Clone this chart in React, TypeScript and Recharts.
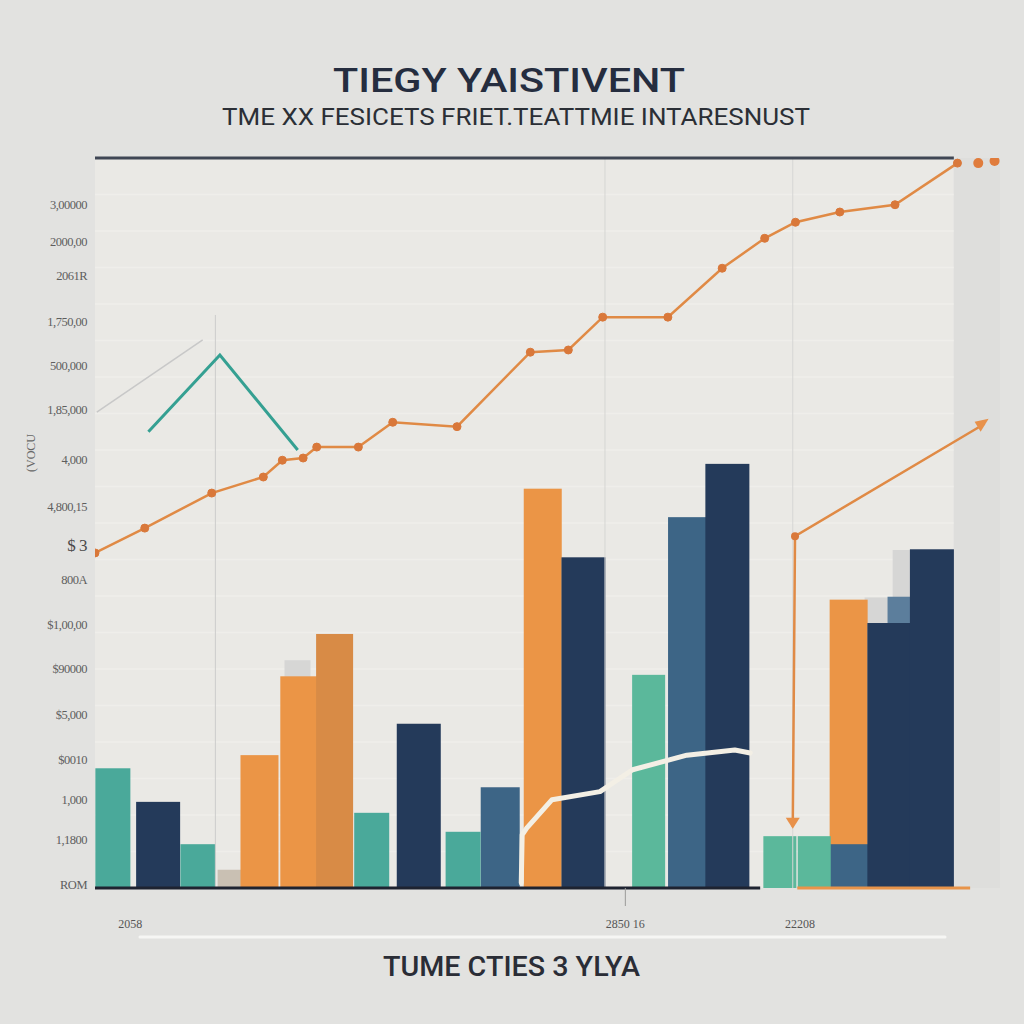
import React from 'react';
import {
  ComposedChart, Bar, Line, XAxis, YAxis, CartesianGrid, ReferenceLine, ReferenceArea
} from 'recharts';

// bar series: [time, value]
const tealBars = [[2.0, 16.4], [11.4, 6.0], [30.6, 10.3], [40.7, 7.7]];
const greenBars = [[61.2, 29.2], [75.7, 7.1], [79.5, 7.1]];
const navyBars = [[7.0, 11.8], [35.8, 22.5], [54.0, 45.3], [69.9, 58.1], [87.8, 36.3], [92.5, 46.4]];
const orangeBars = [[18.2, 18.2], [22.6, 29.0], [49.5, 54.7], [83.3, 39.5]];
const amberBars = [[26.5, 34.8]];
const steelBars = [[44.8, 13.8], [65.5, 50.8], [83.3, 6.0]];
const slateBars = [[89.2, 39.9]];
const ghostBars = [[22.4, 31.2], [86.5, 39.8], [89.6, 46.3]];
const sandBars = [[14.9, 2.5]];

// line series: [time, value]
const trendLine = [
  [0, 45.9], [5.5, 49.3], [12.9, 54.1], [18.6, 56.3], [20.7, 58.6], [23.0, 58.9],
  [24.5, 60.4], [29.1, 60.4], [32.9, 63.8], [40.0, 63.2], [48.1, 73.4], [52.3, 73.7],
  [56.1, 78.2], [63.3, 78.2], [69.3, 84.9], [74.0, 89.0], [77.4, 91.2], [82.3, 92.6],
  [88.4, 93.6], [95.3, 99.3]
];
const trailDots = [[97.6, 99.3], [99.4, 99.6]];
const spikeLine = [[77.1, 8.4], [77.35, 48.2], [98.3, 63.6]];
const tealLine = [[5.9, 62.5], [13.8, 73.0], [22.4, 60.0]];
const greyLine = [[0.2, 65.2], [11.9, 75.1]];
const creamLine = [
  [47.1, 0.7], [47.2, 7.3], [47.7, 8.2], [50.5, 12.1], [55.8, 13.2],
  [59.4, 16.2], [65.4, 18.2], [70.7, 18.9], [72.4, 18.5]
];

// axis ticks
const yTickValues = [93.5, 88.5, 83.8, 77.5, 71.5, 65.5, 58.6, 52.2, 46.7, 42.2, 36, 30, 23.7, 17.5, 12, 6.6, 0.4];
const yTickLabels = ['3,00000', '2000,00', '2061R', '1,750,00', '500,000', '1,85,000', '4,000', '4,800,15',
  '$ 3', '800A', '$1,00,00', '$90000', '$5,000', '$0010', '1,000', '1,1800', 'ROM'];
const xTickValues = [3.9, 58.6, 77.9];
const xTickLabels = ['2058', '2850 16', '22208'];
const gridTicks = [5, 10, 15, 20, 25, 30, 35, 40, 45, 50, 55, 60, 65, 70, 75, 80, 85, 90, 95];
const panelEnd = 94.9; // where the light plot panel stops on the time axis

const toPoints = (arr: number[][]) => arr.map(([x, y]) => ({ x, y }));
const toRows = (arr: number[][], key: string) => arr.map(([x, v]) => ({ x, [key]: v }));

const barRows = [
  ...toRows(ghostBars, 'ghost'), ...toRows(sandBars, 'sand'), ...toRows(orangeBars, 'orange'),
  ...toRows(amberBars, 'amber'), ...toRows(steelBars, 'steel'), ...toRows(slateBars, 'slate'),
  ...toRows(navyBars, 'navy'), ...toRows(tealBars, 'teal'), ...toRows(greenBars, 'green')
];

const barSeries = [
  { key: 'ghost', color: '#d6d6d5', size: 26 },
  { key: 'sand', color: '#c9c0b3', size: 24 },
  { key: 'orange', color: '#eb9546', size: 38 },
  { key: 'amber', color: '#d88b46', size: 37 },
  { key: 'steel', color: '#3d6586', size: 39 },
  { key: 'slate', color: '#5c7e9c', size: 29 },
  { key: 'navy', color: '#243a5a', size: 44 },
  { key: 'teal', color: '#4aa99a', size: 35 },
  { key: 'green', color: '#5bb89b', size: 33 }
];

// centre a fixed-width rect on the bar's x position
const makeShape = (size: number, color: string) => (p: any) => {
  if (p.height == null || !(p.height > 0)) return <g />;
  const cx = p.x + p.width / 2;
  return <rect x={cx - size / 2} y={p.y} width={size} height={p.height} fill={color} />;
};

const gridLine = (p: any) => (
  <line key={`g${p.index}-${p.y1}`} x1={p.x1} y1={p.y1} x2={p.x1 + (p.x2 - p.x1) * panelEnd / 100} y2={p.y2}
    stroke="#f7f6f3" strokeWidth={1.6} />
);

const YTick = (props: any) => {
  const { x, y, payload } = props;
  const i = yTickValues.indexOf(payload.value);
  const big = yTickLabels[i] === '$ 3';
  return (
    <text x={x} y={y} dy={4} textAnchor="end" fontFamily="Liberation Serif" fontSize={big ? 17 : 12.5}
      fill={big ? '#4a4a4a' : '#5e5e5e'} letterSpacing={-0.5}>
      {yTickLabels[i]}
    </text>
  );
};

const XTick = (props: any) => {
  const { x, y, payload } = props;
  const i = xTickValues.indexOf(payload.value);
  return (
    <g>
      {i === 1 && <line x1={x} x2={x} y1={y - 8} y2={y + 10} stroke="#9a9a98" strokeWidth={1} />}
      <text x={x} y={y + 32} textAnchor="middle" fontFamily="Liberation Serif" fontSize={12} fill="#555">
        {xTickLabels[i]}
      </text>
    </g>
  );
};

const cornerDot = (props: any) => {
  const { cx, cy, index } = props;
  if (index === 1) return <circle key={`d${index}`} cx={cx} cy={cy} r={4} fill="#d9783a" />;
  if (index === 0) {
    return <path key={`d${index}`} d={`M${cx - 7},${cy - 9} L${cx + 7},${cy - 9} L${cx},${cy + 2} Z`} fill="#e8914a" />;
  }
  return <path key={`d${index}`} d={`M${cx + 4},${cy - 5} L${cx - 10},${cy - 2} L${cx - 4},${cy + 8} Z`} fill="#e8914a" />;
};

export default function App() {
  return (
    <div style={{ position: 'absolute', left: 0, top: 0, width: 1024, height: 1024, background: '#e2e2e0', overflow: 'hidden' }}>
      <ComposedChart width={1024} height={1024} data={barRows}
        margin={{ top: 158, right: 24, bottom: 86, left: 0 }}>
        <CartesianGrid vertical={false} fill="#e2e2e0" horizontal={gridLine}
          horizontalCoordinatesGenerator={({ offset }: any) =>
            gridTicks.map((t) => offset.top + offset.height * (1 - t / 100))} />
        <XAxis xAxisId={0} dataKey="x" type="number" domain={[0, 100]} allowDataOverflow
          ticks={xTickValues} tick={<XTick />} tickLine={false} axisLine={false} height={50} interval={0} />
        {barSeries.map((s) => (
          <XAxis key={s.key} xAxisId={s.key} dataKey="x" type="number" domain={[0, 100]} allowDataOverflow hide />
        ))}
        <YAxis yAxisId={0} type="number" domain={[0, 100]} allowDataOverflow width={95}
          ticks={yTickValues} tick={<YTick />} tickLine={false} axisLine={false} interval={0} />

        <ReferenceArea x1={0} x2={panelEnd} y1={0} y2={100} fill="#ecebe7" fillOpacity={0.75} stroke="none" />
        <ReferenceArea x1={panelEnd} x2={100} y1={0} y2={100} fill="#dededc" fillOpacity={1} stroke="none" />
        <ReferenceLine segment={[{ x: 13.3, y: 0 }, { x: 13.3, y: 78.5 }]} stroke="#cdcdcb" strokeWidth={1} />
        <ReferenceLine x={56.35} stroke="#d6d6d4" strokeWidth={1} />
        <ReferenceLine x={77.1} stroke="#d6d6d4" strokeWidth={1} />
        <ReferenceLine segment={[{ x: 0, y: 100 }, { x: panelEnd, y: 100 }]} stroke="#3f4654" strokeWidth={3} />

        {barSeries.map((s) => (
          <Bar key={s.key} xAxisId={s.key} yAxisId={0} dataKey={s.key} fill={s.color}
            shape={makeShape(s.size, s.color)} isAnimationActive={false} />
        ))}

        <ReferenceLine segment={[{ x: 0, y: 0 }, { x: 73.5, y: 0 }]} stroke="#1e2330" strokeWidth={3} />
        <ReferenceLine segment={[{ x: 77.6, y: 0 }, { x: 96.7, y: 0 }]} stroke="#e8944a" strokeWidth={3} />

        <Line data={toPoints(greyLine)} dataKey="y" stroke="#c8c8c8" strokeWidth={1.5} dot={false} isAnimationActive={false} />
        <Line data={toPoints(tealLine)} dataKey="y" stroke="#35a092" strokeWidth={3} dot={false} isAnimationActive={false} />
        <Line data={toPoints(creamLine)} dataKey="y" stroke="#f3efe5" strokeWidth={5} strokeLinecap="round"
          strokeLinejoin="round" dot={false} isAnimationActive={false} />
        <Line data={toPoints(spikeLine)} dataKey="y" stroke="#e08a45" strokeWidth={2.5} dot={cornerDot} isAnimationActive={false} />
        <Line data={toPoints(trendLine)} dataKey="y" stroke="#e08a45" strokeWidth={2.5}
          dot={{ r: 4, fill: '#d9783a', stroke: '#d9783a', strokeWidth: 1 }} isAnimationActive={false} />
        <Line data={toPoints(trailDots)} dataKey="y" stroke="none"
          dot={{ r: 5, fill: '#e07c3c', stroke: 'none' }} isAnimationActive={false} />
      </ComposedChart>

      <svg width={1024} height={1024} style={{ position: 'absolute', left: 0, top: 0, pointerEvents: 'none' }}>
        <text x={333} y={92} fontFamily="Roboto" fontWeight={500} fontSize={33} fill="#252d3f"
          textLength={352} lengthAdjust="spacingAndGlyphs">TIEGY YAISTIVENT</text>
        <text x={222} y={125} fontFamily="Roboto" fontSize={24} fill="#2b2f36"
          textLength={588} lengthAdjust="spacingAndGlyphs">TME XX FESICETS FRIET.TEATTMIE INTARESNUST</text>
        <line x1={140} y1={937} x2={945} y2={937} stroke="#f6f6f4" strokeWidth={3} strokeLinecap="round" />
        <text x={383} y={976} fontFamily="Roboto" fontWeight={500} fontSize={28} fill="#2a2d36"
          textLength={257} lengthAdjust="spacingAndGlyphs">TUME CTIES 3 YLYA</text>
        <text transform="translate(35,472) rotate(-90)" fontFamily="Liberation Serif" fontSize={12} fill="#666">(VOCU</text>
      </svg>
    </div>
  );
}
